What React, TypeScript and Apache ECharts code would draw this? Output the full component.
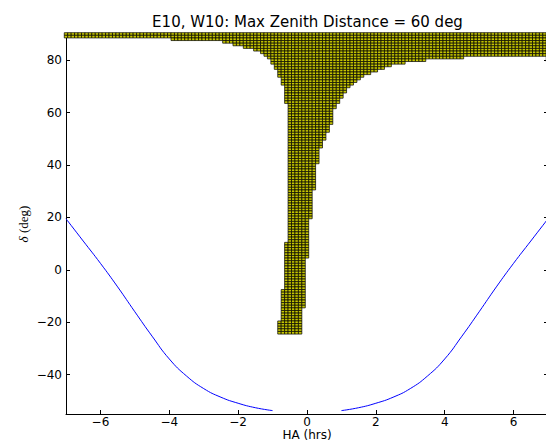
import React, { useEffect, useRef } from 'react';
import * as echarts from 'echarts';

const titleText = 'E10, W10: Max Zenith Distance = 60 deg';
const xName = 'HA (hrs)';
const xTicks = [-6, -4, -2, 0, 2, 4, 6];
const yTicks = [-40, -20, 0, 20, 40, 60, 80];

// Filled cells: [dec top, dec bottom, HA left, HA right] (HA step 0.1 h, dec step 1 deg)
const cellRuns: number[][] = [
  [90, 89, -7.0, 7.0],
  [88, 88, -3.9, 7.0],
  [87, 87, -2.4, 7.0],
  [86, 86, -2.1, 7.0],
  [85, 85, -1.8, 7.0],
  [84, 84, -1.5, 7.0],
  [83, 83, -1.3, 7.0],
  [82, 82, -1.2, 7.0],
  [81, 81, -1.1, 4.5],
  [81, 80, 7.0, 7.0],
  [80, 80, -1.0, 3.4],
  [79, 79, -1.0, 2.8],
  [78, 78, -0.9, 2.4],
  [77, 77, -0.9, 2.2],
  [76, 76, -0.8, 2.0],
  [75, 75, -0.8, 1.8],
  [74, 74, -0.8, 1.6],
  [73, 73, -0.7, 1.5],
  [72, 72, -0.7, 1.4],
  [71, 71, -0.7, 1.3],
  [70, 70, -0.6, 1.2],
  [69, 68, -0.6, 1.1],
  [67, 66, -0.6, 1.0],
  [65, 64, -0.6, 0.9],
  [63, 62, -0.5, 0.8],
  [61, 56, -0.5, 0.7],
  [55, 53, -0.5, 0.6],
  [52, 50, -0.5, 0.5],
  [49, 47, -0.5, 0.4],
  [46, 41, -0.5, 0.3],
  [40, 31, -0.5, 0.2],
  [30, 20, -0.5, 0.1],
  [19, 11, -0.5, 0.0],
  [10, 5, -0.6, 0.0],
  [4, -7, -0.6, -0.1],
  [-8, -14, -0.7, -0.1],
  [-15, -19, -0.7, -0.2],
  [-20, -24, -0.8, -0.2],
];

// Limit curve, east side (HA < 0) and west side (HA > 0)
const eastHA = [-7.0, -6.5, -6.0, -5.5, -5.0, -4.5, -4.0, -3.5, -3.0, -2.5, -2.0, -1.5, -1.0];
const eastDec = [19.5, 11.0, 2.5, -6.5, -16.0, -25.3, -34.0, -40.5, -45.3, -48.6, -50.9, -52.6, -53.7];
const westHA = [1.0, 1.5, 2.0, 2.5, 3.0, 3.5, 4.0, 4.5, 5.0, 5.5, 6.0, 6.5, 7.0];
const westDec = [-53.7, -52.6, -50.9, -48.6, -45.3, -40.5, -34.0, -25.3, -16.0, -6.5, 2.5, 11.0, 19.5];

function buildCells(): number[][] {
  const pts: number[][] = [];
  for (const [dTop, dBot, hL, hR] of cellRuns) {
    for (let d = dTop; d >= dBot; d--) {
      for (let t = Math.round(hL * 10); t <= Math.round(hR * 10); t++) {
        pts.push([t / 10, d]);
      }
    }
  }
  return pts;
}

const fmt = (v: number) => (v < 0 ? '\u2212' + Math.abs(v) : String(v));
const FONT = '"DejaVu Sans", sans-serif';

export default function App() {
  const ref = useRef<HTMLDivElement>(null);
  useEffect(() => {
    if (!ref.current) return;
    const chart = echarts.init(ref.current, undefined, { renderer: 'svg' });
    const axisCommon = {
      type: 'value' as const,
      splitLine: { show: false },
      axisLine: { show: true, onZero: false, lineStyle: { color: '#000', width: 1 } },
    };
    chart.setOption({
      animation: false,
      backgroundColor: '#fff',
      grid: { left: 66, right: -2, top: 34, bottom: 26, outerBoundsMode: 'none' },
      xAxis: [
        {
          ...axisCommon,
          position: 'bottom',
          min: -7,
          max: 7,
          axisTick: { show: true, inside: true, length: 4, customValues: xTicks, lineStyle: { color: '#000' } },
          axisLabel: {
            show: true,
            customValues: xTicks,
            formatter: fmt,
            margin: 2,
            lineHeight: 12,
            color: '#000',
            fontSize: 12,
            fontFamily: FONT,
          },
        },
        {
          ...axisCommon,
          position: 'top',
          min: -7,
          max: 7,
          axisTick: { show: true, inside: true, length: 4, customValues: xTicks, lineStyle: { color: '#000' } },
          axisLabel: { show: false },
        },
      ],
      yAxis: [
        {
          ...axisCommon,
          position: 'left',
          min: -55,
          max: 90,
          axisTick: { show: true, inside: true, length: 4, customValues: yTicks, lineStyle: { color: '#000' } },
          axisLabel: {
            show: true,
            customValues: yTicks,
            formatter: fmt,
            margin: 4,
            color: '#000',
            fontSize: 12,
            fontFamily: FONT,
          },
        },
        {
          ...axisCommon,
          position: 'right',
          min: -55,
          max: 90,
          axisTick: { show: true, inside: true, length: 4, customValues: yTicks, lineStyle: { color: '#000' } },
          axisLabel: { show: false },
        },
      ],
      graphic: [
        {
          type: 'text',
          x: 307.5,
          y: 22,
          style: {
            text: titleText,
            fontSize: 15,
            fontFamily: FONT,
            fill: '#000',
            align: 'center',
            verticalAlign: 'middle',
          },
        },
        {
          type: 'text',
          x: 307,
          y: 434.5,
          style: {
            text: xName,
            fontSize: 12,
            lineHeight: 11,
            fontFamily: FONT,
            fill: '#000',
            align: 'center',
            verticalAlign: 'middle',
          },
        },
        {
          type: 'text',
          x: 23,
          y: 224,
          rotation: Math.PI / 2,
          style: {
            text: '{a|\u03b4} {b|(deg)}',
            align: 'center',
            verticalAlign: 'middle',
            fill: '#000',
            rich: {
              a: { fontStyle: 'italic', fontFamily: '"Liberation Serif", serif', fontSize: 13, fill: '#000' },
              b: { fontFamily: '"Liberation Serif", serif', fontSize: 13, fill: '#000' },
            },
          },
        },
      ],
      series: [
        {
          type: 'scatter',
          xAxisIndex: 0,
          yAxisIndex: 0,
          data: buildCells(),
          symbol: 'rect',
          symbolSize: [3.44, 2.62],
          progressive: 0,
          clip: true,
          silent: true,
          itemStyle: { color: '#c8c800', borderColor: '#000', borderWidth: 0.7, opacity: 1 },
        },
        {
          type: 'line',
          xAxisIndex: 0,
          yAxisIndex: 0,
          data: eastHA.map((h, i) => [h, eastDec[i]]),
          smooth: 0.5,
          showSymbol: false,
          symbol: 'none',
          clip: true,
          lineStyle: { color: '#0000ff', width: 1 },
        },
        {
          type: 'line',
          xAxisIndex: 0,
          yAxisIndex: 0,
          data: westHA.map((h, i) => [h, westDec[i]]),
          smooth: 0.5,
          showSymbol: false,
          symbol: 'none',
          clip: true,
          lineStyle: { color: '#0000ff', width: 1 },
        },
      ],
    });
    return () => chart.dispose();
  }, []);
  return (
    <div
      ref={ref}
      style={{ position: 'absolute', left: 0, top: 0, width: 546, height: 440 }}
    />
  );
}
